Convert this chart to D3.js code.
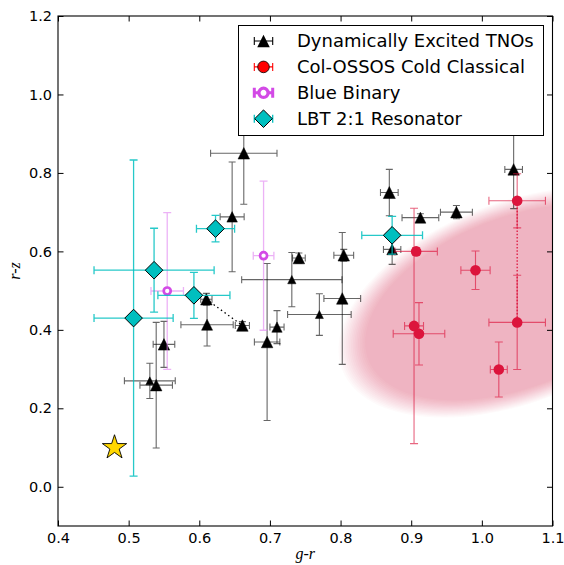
<!DOCTYPE html>
<html><head><meta charset="utf-8">
<script src="https://cdn.jsdelivr.net/npm/d3@7"></script>
<style>body{margin:0;background:#fff}svg{display:block}</style>
</head><body>
<svg id="c" width="564" height="565"></svg>
<script>
// ---------------- data ----------------
// Dynamically Excited TNOs
const tnoGR    = [0.663,0.6465,0.610,0.611,0.661,0.696,0.710,0.731,0.741,0.770,0.8045,0.8024,0.869,0.873,0.913,0.964,1.045,0.550,0.530,0.539];
const tnoGRerr = [0.047,0.017,0.008,0.037,0.010,0.018,0.010,0.071,0.009,0.045,0.014,0.026,0.0125,0.0123,0.026,0.0226,0.0125,0.0153,0.036,0.023];
const tnoRZ    = [0.850,0.688,0.478,0.413,0.411,0.369,0.407,0.528,0.583,0.439,0.590,0.480,0.750,0.605,0.686,0.700,0.809,0.363,0.270,0.259];
const tnoRZerr = [0.130,0.140,0.015,0.054,0.010,0.200,0.042,0.069,0.013,0.053,0.015,0.168,0.059,0.038,0.010,0.017,0.100,0.0586,0.045,0.160];
const tnoMarkerSize = [11.5,10.5,11.5,11,11.5,11.5,10.3,8.3,11.5,8,11.5,11.5,12,10.7,11,11.5,11.5,11.5,8,11.5];
const tnoLinks = [[2,4]];

// Col-OSSOS Cold Classical
const ccGR    = [0.904,0.907,0.911,0.991,1.050,1.050,1.024];
const ccGRerr = [0.0134,0.030,0.0365,0.0207,0.040,0.040,0.012];
const ccRZ    = [0.410,0.600,0.390,0.552,0.729,0.419,0.299];
const ccRZerr = [0.300,0.010,0.0795,0.049,0.069,0.120,0.070];
const ccLinks = [[4,5]];

// Blue Binary
const bbGR    = [0.5546,0.691];
const bbGRerr = [0.023,0.0146];
const bbRZ    = [0.499,0.589];
const bbRZerr = [0.200,0.190];

// LBT 2:1 Resonator
const lbtGR    = [0.507,0.536,0.5924,0.623,0.873];
const lbtGRerr = [0.056,0.085,0.051,0.027,0.043];
const lbtRZ    = [0.430,0.552,0.488,0.658,0.641];
const lbtRZerr = [0.403,0.107,0.0586,0.0336,0.048];

// Sun (star)
const sunGR = [0.48];
const sunRZ = [0.10];

// Cold-classical region (tilted ellipse): centre, half-widths, tilt coupling
const blobCenter = [1.049, 0.47];
const blobHalfGR = 0.252;
const blobHalfRZ = 0.268;
const blobTilt   = 0.12;

const xTicks = [0.4,0.5,0.6,0.7,0.8,0.9,1.0,1.1];
const yTicks = [0.0,0.2,0.4,0.6,0.8,1.0,1.2];
const legendLabels = ["Dynamically Excited TNOs","Col-OSSOS Cold Classical","Blue Binary","LBT 2:1 Resonator"];
const xLabel = "g-r", yLabel = "r-z";

// ---------------- layout ----------------
const L = 58, R = 552.5, T = 16, B = 526;
const x = d3.scaleLinear([0.4, 1.1], [L, R]);
const y = d3.scaleLinear([-0.1, 1.2], [B, T]);

const svg = d3.select("#c");
const font = "'DejaVu Sans', sans-serif";

svg.append("defs").append("clipPath").attr("id","clip")
  .append("rect").attr("x",L).attr("y",T).attr("width",R-L).attr("height",B-T);

const plot = svg.append("g").attr("clip-path","url(#clip)");

// blob as stacked translucent layers
const angles = d3.range(0, 361, 3).map(a => a*Math.PI/180);
const nLayers = 16;
const layerOp = 1 - Math.pow(1-0.25, 1/nLayers);
const blobLine = d3.line().x(d => x(d[0])).y(d => y(d[1])).curve(d3.curveLinearClosed);
for (let i = 0; i < nLayers; i++) {
  const s = 1 - 0.15 * i/(nLayers-1);
  const pts = angles.map(t => [
    blobCenter[0] + s*blobHalfGR*Math.cos(t),
    blobCenter[1] + s*(blobHalfRZ*Math.sin(t) + blobTilt*Math.cos(t))
  ]);
  plot.append("path").attr("d", blobLine(pts)).attr("fill","#DC143C").attr("fill-opacity", layerOp).attr("stroke","none");
}

function mk(gr, gre, rz, rze){ return gr.map((v,i)=>({x:v, xe:gre[i], y:rz[i], ye:rze[i], i})); }
const tno = mk(tnoGR,tnoGRerr,tnoRZ,tnoRZerr);
const cc  = mk(ccGR,ccGRerr,ccRZ,ccRZerr);
const bb  = mk(bbGR,bbGRerr,bbRZ,bbRZerr);
const lbt = mk(lbtGR,lbtGRerr,lbtRZ,lbtRZerr);

function ebPath(cx, cy, x0, x1, y0, y1, c){
  return `M${x0},${cy}H${x1}M${x0},${cy-c}V${cy+c}M${x1},${cy-c}V${cy+c}` +
         `M${cx},${y0}V${y1}M${cx-c},${y0}H${cx+c}M${cx-c},${y1}H${cx+c}`;
}
function errorbars(g, data, color, op, lw, cap){
  g.append("g").selectAll("path").data(data).join("path")
    .attr("d", d => ebPath(x(d.x), y(d.y), x(d.x-d.xe), x(d.x+d.xe), y(d.y-d.ye), y(d.y+d.ye), cap))
    .attr("fill","none").attr("stroke",color).attr("stroke-opacity",op).attr("stroke-width",lw);
}
function links(g, data, pairs, color, dash){
  g.append("g").selectAll("line").data(pairs).join("line")
    .attr("x1", p => x(data[p[0]].x)).attr("y1", p => y(data[p[0]].y))
    .attr("x2", p => x(data[p[1]].x)).attr("y2", p => y(data[p[1]].y))
    .attr("stroke", color).attr("stroke-width", 1.3).attr("stroke-dasharray", dash);
}
const triPath = ms => { const h = ms/2; return `M0,${-h}L${h},${h}L${-h},${h}Z`; };
const diaPath = r => `M0,${-r}L${r},0L0,${r}L${-r},0Z`;
function starPath(R){
  const r = R*0.381966; let p = "";
  for (let k = 0; k < 10; k++){
    const rad = k%2 ? r : R, a = -Math.PI/2 + k*Math.PI/5;
    p += (k ? "L" : "M") + (rad*Math.cos(a)).toFixed(2) + "," + (rad*Math.sin(a)).toFixed(2);
  }
  return p + "Z";
}

// TNOs
const gT = plot.append("g");
links(gT, tno, tnoLinks, "#000", "1.5,3");
errorbars(gT, tno, "#000", 0.6, 1.1, 3.5);
gT.append("g").selectAll("path").data(tno).join("path")
  .attr("transform", d => `translate(${x(d.x)},${y(d.y)})`)
  .attr("d", d => triPath(tnoMarkerSize[d.i])).attr("fill","#000").attr("stroke","#000").attr("stroke-width",0.5);

// Cold classicals
const gC = plot.append("g");
links(gC, cc, ccLinks, "#DC143C", "1.5,1.8");
errorbars(gC, cc, "#DC143C", 0.65, 1.1, 4);
gC.append("g").selectAll("circle").data(cc).join("circle")
  .attr("cx", d => x(d.x)).attr("cy", d => y(d.y)).attr("r", 5.3).attr("fill","#DC143C");

// Blue binary
const gB = plot.append("g");
errorbars(gB, bb, "#e07ff0", 0.6, 1.3, 4);
gB.append("g").selectAll("circle").data(bb).join("circle")
  .attr("cx", d => x(d.x)).attr("cy", d => y(d.y)).attr("r", 3.5)
  .attr("fill","#fff").attr("stroke","#d34ae6").attr("stroke-width",2.7);

// LBT 2:1
const gL = plot.append("g");
errorbars(gL, lbt, "#00BFBF", 0.85, 1.3, 4);
gL.append("g").selectAll("path").data(lbt).join("path")
  .attr("transform", d => `translate(${x(d.x)},${y(d.y)})`)
  .attr("d", diaPath(8.8)).attr("fill","#00BFBF").attr("stroke","#000").attr("stroke-width",1);

// Sun
plot.append("g").selectAll("path").data(sunGR).join("path")
  .attr("transform", (d,i) => `translate(${x(d)},${y(sunRZ[i])})`)
  .attr("d", starPath(12.8)).attr("fill","#FFD700").attr("stroke","#000").attr("stroke-width",0.9);

// ---------------- axes ----------------
const tickLen = 5.5;
function styleAxis(g){
  g.select(".domain").remove();
  g.selectAll(".tick line").attr("stroke","#000").attr("stroke-width",1);
  g.selectAll(".tick text").attr("font-family",font).attr("font-size","14.5px").attr("fill","#000");
}
svg.append("g").attr("transform",`translate(0,${B})`)
  .call(d3.axisBottom(x).tickValues(xTicks).tickFormat(d3.format(".1f")).tickSizeInner(-tickLen).tickSizeOuter(0).tickPadding(7))
  .call(styleAxis);
svg.append("g").attr("transform",`translate(0,${T})`)
  .call(d3.axisTop(x).tickValues(xTicks).tickFormat("").tickSizeInner(-tickLen).tickSizeOuter(0))
  .call(styleAxis);
svg.append("g").attr("transform",`translate(${L},0)`)
  .call(d3.axisLeft(y).tickValues(yTicks).tickFormat(d3.format(".1f")).tickSizeInner(-tickLen).tickSizeOuter(0).tickPadding(6))
  .call(styleAxis);
svg.append("g").attr("transform",`translate(${R},0)`)
  .call(d3.axisRight(y).tickValues(yTicks).tickFormat("").tickSizeInner(-tickLen).tickSizeOuter(0))
  .call(styleAxis);

svg.append("rect").attr("x",L).attr("y",T).attr("width",R-L).attr("height",B-T)
  .attr("fill","none").attr("stroke","#000").attr("stroke-width",1.1);

svg.append("text").attr("x",(L+R)/2).attr("y",559).attr("text-anchor","middle")
  .attr("font-family","'Liberation Serif', serif").attr("font-style","italic").attr("font-size","16px").text(xLabel);
svg.append("text").attr("transform",`translate(19.5,${(T+B)/2}) rotate(-90)`).attr("text-anchor","middle")
  .attr("font-family","'Liberation Serif', serif").attr("font-style","italic").attr("font-size","16px").text(yLabel);

// ---------------- legend ----------------
const lg = svg.append("g");
lg.append("rect").attr("x",238.5).attr("y",25.5).attr("width",305).attr("height",110)
  .attr("fill","#fff").attr("stroke","#000").attr("stroke-width",1);
const rowY = i => 41 + i*25.9;
const mx = 263.5, eh = 9.2;
const legendStyles = [
  {ecol:"#000", elw:1.1, cap:4, draw: g => g.append("path").attr("d", triPath(12.5)).attr("fill","#000")},
  {ecol:"#ff0000", elw:1.1, cap:4, draw: g => g.append("circle").attr("r",5.8).attr("fill","#ff0000").attr("stroke","#000").attr("stroke-width",0.8)},
  {ecol:"#d34ae6", elw:3, cap:5, draw: g => g.append("circle").attr("r",4.6).attr("fill","#fff").attr("stroke","#d34ae6").attr("stroke-width",3.3)},
  {ecol:"#00BFBF", elw:1.3, cap:4, draw: g => g.append("path").attr("d", diaPath(8.8)).attr("fill","#00BFBF").attr("stroke","#000").attr("stroke-width",1)}
];
legendLabels.forEach((lab, i) => {
  const st = legendStyles[i], cy = rowY(i);
  const g = lg.append("g").attr("transform",`translate(${mx},${cy})`);
  g.append("path").attr("d", `M${-eh},0H${eh}M${-eh},${-st.cap}V${st.cap}M${eh},${-st.cap}V${st.cap}`)
    .attr("stroke", st.ecol).attr("stroke-width", st.elw).attr("fill","none");
  st.draw(g);
  lg.append("text").attr("x",297).attr("y",cy+6.3).attr("font-family",font).attr("font-size","18px").attr("fill","#000").text(lab);
});
</script>
</body></html>
